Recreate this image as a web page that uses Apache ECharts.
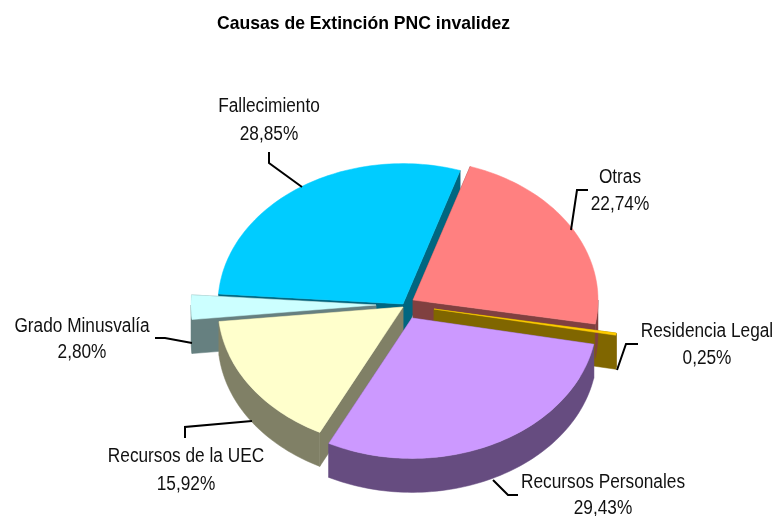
<!DOCTYPE html>
<html><head><meta charset="utf-8">
<style>html,body{margin:0;padding:0;background:#fff}#c{width:775px;height:516px}</style>
<script src="https://cdn.jsdelivr.net/npm/echarts@6/dist/echarts.min.js"></script>
</head><body><div id="c"></div>
<script>
// Data, clockwise from the top
const categories = ['Otras','Residencia Legal','Recursos Personales','Recursos de la UEC','Grado Minusvalía','Fallecimiento'];
const values = [22.74,0.25,29.43,15.92,2.80,28.85];
const topColors = ['#FF8080','#FFCC00','#CC99FF','#FFFFCC','#CCFFFF','#00CCFF'];
const wallColors = ['#804040','#806600','#664C80','#808066','#668080','#006680'];
const titleText = 'Causas de Extinción PNC invalidez';

// Layout
const FONT = '"Liberation Sans", Arial, sans-serif';
const RX = 185, RY = 140.4, DEPTH = 34, START = 18;
const apexes = [[413,300],[434,309],[412,318],[403,307],[376,305],[403,304]];
const drawOrder = [5,0,4,1,3,2];
const labelPos = [[620,178,205],[707,332,359],[603,483,509],[186,457,485],[82,327,353],[269,107,135]];
const leaders = [
  [[588,190],[577,190],[571,230]],
  [[638,344],[626,344],[617,370]],
  [[493,480],[508,495],[518,495]],
  [[252,421],[185,427],[185,438]],
  [[155,338],[165,338],[192,343]],
  [[269,152],[269,163],[302,187]]
];

const total = values.reduce((a,b)=>a+b,0);
const rim = (ap,t,dz)=>{const r=t*Math.PI/180;return [ap[0]+RX*Math.sin(r),ap[1]-RY*Math.cos(r)+(dz||0)];};
const arc = (ap,a,b,dz)=>{const p=[];const n=Math.max(2,Math.ceil((b-a)/1.5));for(let k=0;k<=n;k++)p.push(rim(ap,a+(b-a)*k/n,dz));return p;};
const poly = (points,fill,z2)=>({type:'polygon',z2,shape:{points},style:{fill,stroke:fill,lineWidth:0.5}});
const fmt = v=>v.toFixed(2).replace('.',',')+'%';

function renderSlice(params,api){
  const i = api.value(1), val = api.value(0);
  let sum = 0; for(let k=0;k<i;k++) sum += values[k];
  const a = START + sum/total*360, b = a + val/total*360;
  const ap = apexes[i], wall = wallColors[i], top = topColors[i];
  const apLow = [ap[0],ap[1]+DEPTH];
  const children = [];
  const cut = t=>[ap,rim(ap,t),rim(ap,t,DEPTH),apLow];
  children.push(poly(cut(a),wall,1), poly(cut(b),wall,1));
  const w0 = Math.max(a,90), w1 = Math.min(b,270);
  if(w0<w1) children.push(poly(arc(ap,w0,w1,0).concat(arc(ap,w0,w1,DEPTH).reverse()),wall,2));
  children.push(poly([ap].concat(arc(ap,a,b,0)),top,3));
  return {type:'group',children};
}
function renderLabel(params,api){
  const i = api.value(1), pos = labelPos[i];
  const txt = (s,y)=>({type:'text',x:pos[0],y,scaleX:0.885,style:{text:s,x:0,y:0,align:'center',verticalAlign:'middle',font:'19.5px '+FONT,fill:'#111'}});
  return {type:'group',children:[
    {type:'polyline',shape:{points:leaders[i]},style:{stroke:'#000',lineWidth:2,fill:null}},
    txt(categories[i],pos[1]), txt(fmt(values[i]),pos[2])
  ]};
}
const sliceData = drawOrder.map(i=>[values[i],i]);
const chart = echarts.init(document.getElementById('c'),null,{renderer:'canvas'});
chart.setOption({
  animation:false,
  backgroundColor:'#fff',
  graphic:[{type:'text',x:363.5,y:24,scaleX:0.95,style:{text:titleText,x:0,y:0,align:'center',verticalAlign:'middle',font:'bold 18.5px '+FONT,fill:'#000'}}],
  series:[
    {type:'custom',coordinateSystem:'none',silent:true,renderItem:renderSlice,data:sliceData,z:2},
    {type:'custom',coordinateSystem:'none',silent:true,renderItem:renderLabel,data:sliceData,z:3}
  ]
});
</script></body></html>
